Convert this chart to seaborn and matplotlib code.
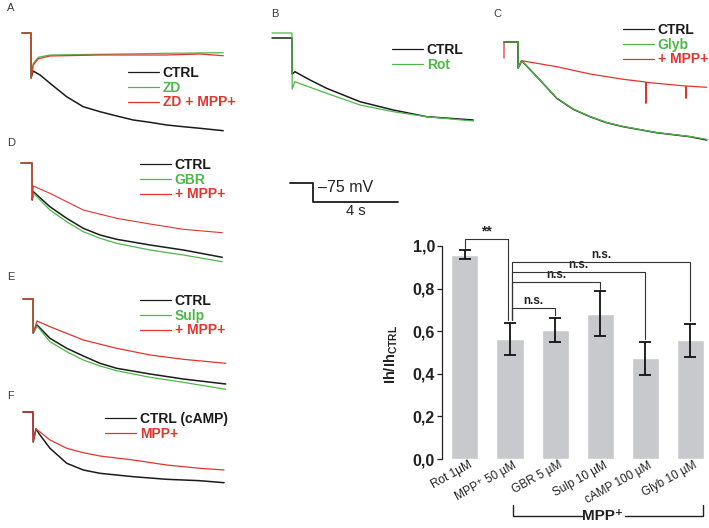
import matplotlib
matplotlib.use("Agg")
import matplotlib.pyplot as plt
import matplotlib.transforms as mtransforms
from matplotlib.lines import Line2D
import seaborn as sns
import pandas as pd

# ---------------- data (time in s, current in a.u.) ----------------
# Panel A
A_t_ctrl = [0.0, 0.42, 0.43, 0.52, 0.85, 1.32, 2.10, 2.88, 3.67, 4.46, 5.24, 6.02, 6.81, 7.59, 8.38, 9.47]
A_i_ctrl = [0.0, 0.0, -4.5, -3.8, -4.2, -5.03, -6.37, -7.37, -7.87, -8.3, -8.7, -8.93, -9.2, -9.37, -9.53, -9.77]
A_t_zd = [0.0, 0.42, 0.43, 0.53, 0.77, 1.32, 3.67, 6.81, 9.47]
A_i_zd = [0.0, 0.0, -4.5, -3.03, -2.43, -2.2, -2.13, -2.03, -1.97]
A_t_mpp = [0.0, 0.42, 0.43, 0.53, 0.77, 1.32, 3.67, 6.81, 8.38, 9.47]
A_i_mpp = [0.0, 0.0, -4.5, -3.2, -2.57, -2.3, -2.2, -2.2, -2.1, -2.27]

# Panel B
B_t = [0.0, 0.94, 0.95, 1.08, 1.79, 2.57, 4.14, 5.71, 7.28, 9.47]
B_i_ctrl = [0.0, 0.0, -3.6, -3.37, -4.2, -5.03, -6.37, -7.2, -7.87, -8.2]
B_i_rot = [0.5, 0.5, -5.1, -4.37, -4.93, -5.53, -6.7, -7.37, -7.87, -8.3]

# Panel C
C_t = [0.0, 0.66, 0.67, 0.83, 1.69, 2.48, 3.26, 4.05, 4.83, 5.61, 7.18, 8.75, 9.54]
C_i_ctrl = [0.0, 0.0, -2.6, -1.87, -3.8, -5.63, -6.73, -7.47, -8.07, -8.47, -9.07, -9.47, -9.8]
C_i_glyb = [0.0, 0.0, -2.6, -1.87, -3.8, -5.6, -6.7, -7.45, -8.05, -8.45, -9.05, -9.45, -9.73]
C_t_mpp = [0.0, 0.0, 0.66, 0.66, 0.83, 2.48, 4.05, 5.61, 6.66, 6.68, 6.70, 7.18, 8.54, 8.56, 8.58, 9.54]
C_i_mpp = [-1.6, 0.0, 0.0, -2.6, -1.87, -2.47, -3.2, -3.73, -4.0, -6.13, -4.03, -4.13, -4.4, -5.63, -4.4, -4.53]

# Panel D
D_t = [0.0, 0.52, 0.53, 0.58, 1.36, 2.15, 2.93, 3.72, 4.50, 6.07, 7.64, 9.47]
D_i_ctrl = [0.0, 0.0, -3.7, -2.87, -4.37, -5.53, -6.53, -7.2, -7.63, -8.2, -8.7, -9.43]
D_i_gbr = [0.0, 0.0, -3.7, -3.0, -4.7, -5.87, -6.87, -7.53, -8.03, -8.7, -9.2, -9.87]
D_t_mpp = [0.0, 0.52, 0.53, 0.58, 1.36, 2.93, 4.50, 6.07, 7.64, 9.47]
D_i_mpp = [0.0, 0.0, -3.7, -2.3, -3.03, -4.7, -5.53, -6.1, -6.63, -6.97]

# Panel E
E_t = [0.0, 0.47, 0.48, 0.66, 1.27, 2.06, 2.84, 3.62, 4.41, 5.98, 7.54, 9.54]
E_i_ctrl = [0.0, 0.0, -3.4, -2.6, -3.93, -4.93, -5.7, -6.43, -6.93, -7.5, -8.0, -8.5]
E_i_sulp = [0.0, 0.0, -3.4, -2.7, -4.27, -5.27, -6.1, -6.7, -7.17, -7.83, -8.33, -9.03]
E_t_mpp = [0.0, 0.47, 0.48, 0.66, 1.27, 2.84, 4.41, 5.98, 7.54, 9.54]
E_i_mpp = [0.0, 0.0, -3.4, -2.2, -2.77, -4.1, -4.93, -5.6, -6.03, -6.43]

# Panel F
F_t = [0.0, 0.47, 0.48, 0.61, 0.80, 1.27, 2.06, 2.84, 3.62, 5.19, 6.76, 8.33, 9.46]
F_i_ctrl = [0.0, 0.0, -3.0, -1.7, -2.3, -3.63, -5.13, -5.8, -6.13, -6.47, -6.73, -6.87, -7.07]
F_i_mpp = [0.0, 0.0, -3.0, -1.7, -2.0, -2.8, -3.63, -4.07, -4.4, -4.8, -5.3, -5.63, -5.8]

# Voltage protocol (scale bar)
step_t = [0.0, 1.08, 1.08, 5.08]
step_v = [-60.0, -60.0, -75.0, -75.0]

# Bar chart
bar_labels = ["Rot 1µM", "MPP⁺ 50 µM", "GBR 5 µM", "Sulp 10 µM", "cAMP 100 µM", "Glyb 10 µM"]
bar_values = [0.96, 0.565, 0.605, 0.683, 0.473, 0.558]
bar_errors = [0.02, 0.075, 0.057, 0.105, 0.077, 0.078]
sig_pairs = [(0, 1), (1, 2), (1, 3), (1, 4), (1, 5)]
sig_text = ["**", "n.s.", "n.s.", "n.s.", "n.s."]
y_ticks = [0.0, 0.2, 0.4, 0.6, 0.8, 1.0]
y_tick_labels = ["0,0", "0,2", "0,4", "0,6", "0,8", "1,0"]

# ---------------- style ----------------
sns.set_theme(style="white")
plt.rcParams["font.family"] = ["Liberation Sans", "DejaVu Sans"]
plt.rcParams["mathtext.fontset"] = "custom"
plt.rcParams["mathtext.rm"] = "Liberation Sans"
plt.rcParams["mathtext.bf"] = "Liberation Sans:bold"

BLACK = "#1b1b1b"
GREEN = "#4cb847"
RED = "#e3342d"
BAR = "#c8c9cc"
LBL = "#3a3a3a"

W, H = 709, 528
fig = plt.figure(figsize=(W / 100, H / 100), dpi=100)
fig.patch.set_facecolor("white")

PX_PER_S = 21.25
PX_PER_UNIT = 10.0


def trace_axes(box, origin):
    l, t, r, b = box
    ax = fig.add_axes([l / W, 1 - b / H, (r - l) / W, (b - t) / H])
    x0, y0 = origin
    ax.axis("off")
    return ax, ((l - x0) / PX_PER_S, (r - x0) / PX_PER_S), (-(b - y0) / PX_PER_UNIT, -(t - y0) / PX_PER_UNIT)


def finish(ax, xl, yl):
    ax.set_xlim(*xl)
    ax.set_ylim(*yl)
    ax.axis("off")


def trace(ax, t, i, color, lw=1.0):
    sns.lineplot(x=t, y=i, ax=ax, color=color, lw=lw, sort=False,
                 estimator=None, legend=False)


def legend(ax, entries, x_px, y_px, fs=10):
    handles = [Line2D([], [], color=c, lw=0.9) for _, c in entries]
    labels = [s for s, _ in entries]
    ax.legend(handles, labels, loc="upper left",
              bbox_to_anchor=(x_px / W, 1 - y_px / H),
              bbox_transform=fig.transFigure, frameon=False,
              borderpad=0, borderaxespad=0, handlelength=2.2,
              handletextpad=0.3, labelspacing=0.05,
              prop={"weight": "bold", "size": fs},
              labelcolor=[c for _, c in entries])


def panel_label(s, x, y):
    fig.text(x / W, 1 - y / H, s, fontsize=8, color=LBL, va="center", ha="left")


# Panel A
axA, xl, yl = trace_axes((15, 20, 235, 145), (22, 33))
trace(axA, A_t_ctrl, A_i_ctrl, BLACK, 1.1)
trace(axA, A_t_zd, A_i_zd, GREEN, 0.9)
trace(axA, A_t_mpp, A_i_mpp, RED, 0.9)
finish(axA, xl, yl)
legend(axA, [("CTRL", BLACK), ("ZD", GREEN), ("ZD + MPP+", RED)], 128, 66)
panel_label("A", 7, 8)

# Panel B
axB, xl, yl = trace_axes((265, 20, 485, 140), (272, 38))
trace(axB, B_t, B_i_ctrl, BLACK, 1.1)
trace(axB, B_t, B_i_rot, GREEN, 0.9)
finish(axB, xl, yl)
legend(axB, [("CTRL", BLACK), ("Rot", GREEN)], 392, 43)
panel_label("B", 271, 14)

# Panel C
axC, xl, yl = trace_axes((495, 25, 709, 150), (504, 42))
trace(axC, C_t_mpp, C_i_mpp, RED, 0.9)
trace(axC, C_t, C_i_ctrl, BLACK, 1.1)
trace(axC, C_t, C_i_glyb, GREEN, 0.9)
finish(axC, xl, yl)
legend(axC, [("CTRL", BLACK), ("Glyb", GREEN), ("+ MPP+", RED)], 623, 23)
panel_label("C", 493, 14)

# Panel D
axD, xl, yl = trace_axes((15, 150, 235, 275), (21, 163))
trace(axD, D_t, D_i_ctrl, BLACK, 1.1)
trace(axD, D_t, D_i_gbr, GREEN, 0.9)
trace(axD, D_t_mpp, D_i_mpp, RED, 0.8)
finish(axD, xl, yl)
legend(axD, [("CTRL", BLACK), ("GBR", GREEN), ("+ MPP+", RED)], 140, 158)
panel_label("D", 7, 143)

# Panel E
axE, xl, yl = trace_axes((15, 285, 235, 400), (23, 299))
trace(axE, E_t, E_i_ctrl, BLACK, 1.1)
trace(axE, E_t, E_i_sulp, GREEN, 0.9)
trace(axE, E_t_mpp, E_i_mpp, RED, 0.9)
finish(axE, xl, yl)
legend(axE, [("CTRL", BLACK), ("Sulp", GREEN), ("+ MPP+", RED)], 140, 294)
panel_label("E", 7, 277)

# Panel F
axF, xl, yl = trace_axes((15, 400, 235, 500), (23, 412))
trace(axF, F_t, F_i_ctrl, BLACK, 1.1)
trace(axF, F_t, F_i_mpp, RED, 0.9)
finish(axF, xl, yl)
legend(axF, [("CTRL (cAMP)", BLACK), ("MPP+", RED)], 105, 412)
panel_label("F", 7, 396)

# Scale bar / voltage step
axS = fig.add_axes([280 / W, 1 - 222 / H, 130 / W, 52 / H])
sns.lineplot(x=step_t, y=step_v, ax=axS, color=BLACK, lw=1.3, sort=False,
             estimator=None, legend=False)
axS.set_xlim(-10 / PX_PER_S, 120 / PX_PER_S)
axS.set_ylim(-75 - 20 / 1.267, -60 + 13 / 1.267)
axS.axis("off")
axS.text(1.30, -63.6, "–75 mV", fontsize=11.5, color="#222", va="center", ha="left")
axS.text((step_t[2] + step_t[3]) / 2, -82.0, "4 s", fontsize=10.5, color="#222",
         va="center", ha="center")

# ---------------- bar chart ----------------
ymax = 1.06
axb = fig.add_axes([442 / W, 1 - 459 / H, (705 - 442) / W, (459 - 233.2) / H])
df = pd.DataFrame({"cond": bar_labels, "val": bar_values})
sns.barplot(data=df, x="cond", y="val", color=BAR, saturation=1, width=0.6,
            errorbar=None, ax=axb)
axb.errorbar(range(len(bar_values)), bar_values, yerr=bar_errors, fmt="none",
             ecolor="#111111", elinewidth=1.3, capsize=4.5, capthick=1.3, zorder=5)
axb.set_xlim(-0.51, 5.33)
axb.set_ylim(0, ymax)
sns.despine(ax=axb, top=True, right=True, bottom=True)
axb.spines["left"].set_bounds(0, 1.0)
axb.spines["left"].set_linewidth(0.9)
axb.spines["left"].set_color("#222")
axb.set_yticks(y_ticks)
axb.set_yticklabels(y_tick_labels, fontweight="bold", fontsize=11.5, color="#222")
axb.tick_params(axis="y", left=True, length=3.5, width=0.9, color="#222", pad=1.5)
axb.tick_params(axis="x", bottom=False, length=0, pad=1)
axb.set_xlabel("")
axb.set_ylabel(r"$\mathbf{Ih/Ih_{CTRL}}$", fontsize=10.5, color="#222")
axb.yaxis.set_label_coords(-0.16, 0.465)
off = mtransforms.ScaledTranslation(6 / 100, -4 / 100, fig.dpi_scale_trans)
for lab in axb.get_xticklabels():
    lab.set_rotation(29)
    lab.set_ha("right")
    lab.set_va("center")
    lab.set_rotation_mode("anchor")
    lab.set_fontsize(8.5)
    lab.set_color("#222")
    lab.set_transform(lab.get_transform() + off)

# significance brackets
heights = [1.033, 0.709, 0.831, 0.878, 0.925]
for k, ((a, b), txt, h) in enumerate(zip(sig_pairs, sig_text, heights)):
    xa = a if k == 0 else a + 0.04
    xb = b - 0.04 if k == 0 else b
    ya = bar_values[a] + bar_errors[a] + 0.012
    yb = bar_values[b] + bar_errors[b] + 0.012
    axb.plot([xa, xa, xb, xb], [ya, h, h, yb], color="#333", lw=0.8,
             clip_on=False, zorder=4)
    if txt == "**":
        axb.text((xa + xb) / 2, h + 0.003, txt, ha="center", va="bottom",
                 fontsize=10, fontweight="bold", color="#222")
    else:
        axb.text((xa + xb) / 2, h + 0.006, txt, ha="center", va="bottom",
                 fontsize=8.5, fontweight="bold", color="#222")

# MPP+ group bracket beneath the labels
yb_line, yb_tick = -0.268, -0.216
axb.plot([1.07, 1.07, 2.6], [yb_tick, yb_line, yb_line], color="#222", lw=1.0,
         clip_on=False)
axb.plot([3.55, 5.29, 5.29], [yb_line, yb_line, yb_tick], color="#222", lw=1.0,
         clip_on=False)
axb.text(3.06, yb_line, "MPP⁺", ha="center", va="center", fontsize=11,
         fontweight="bold", color="#222")

fig.savefig("out.png", dpi=100, facecolor="white")
